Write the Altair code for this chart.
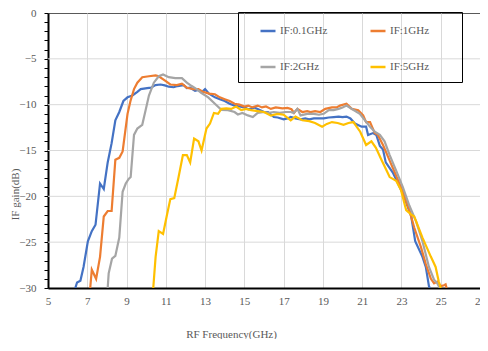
import altair as alt
import pandas as pd

# ---- data ----
names = ["IF:0.1GHz", "IF:1GHz", "IF:2GHz", "IF:5GHz"]
colors = ["#4472C4", "#ED7D31", "#A5A5A5", "#FFC000"]
# legend is laid out column by column, so list column 1 first
legend_order = ["IF:0.1GHz", "IF:2GHz", "IF:1GHz", "IF:5GHz"]

f_01 = [6.39, 6.48, 6.65, 6.81, 7.03, 7.23, 7.42, 7.65, 7.84, 8.04, 8.24, 8.43, 8.63, 8.84, 9.05, 9.3, 9.55, 9.72,
        10.05, 10.25, 10.47, 10.73, 10.95, 11.15, 11.4, 11.6, 11.9, 12.07, 12.24, 12.49, 12.66, 12.85, 13.0, 13.2,
        13.5, 13.75, 14.0, 14.25, 14.5, 14.75, 15.0, 15.2, 15.34, 15.5, 15.7, 16.0, 16.2, 16.5, 16.7, 17.0, 17.2,
        17.36, 17.6, 17.86, 18.1, 18.3, 18.54, 18.8, 19.04, 19.3, 19.55, 19.8, 20.0, 20.2, 20.4, 20.63, 20.97,
        21.2, 21.3, 21.55, 21.72, 21.9, 22.06, 22.2, 22.56, 23.07, 23.3, 23.5, 23.7, 24.07, 24.24, 24.4, 24.45]
g_01 = [-30, -29.4, -29.2, -27.7, -24.9, -23.8, -23.1, -18.6, -19.2, -16.3, -14.2, -11.7, -10.8, -9.6, -9.2, -9.0,
        -8.6, -8.3, -8.2, -8.15, -7.86, -7.8, -7.9, -8.04, -8.1, -7.97, -7.86, -8.2, -8.15, -8.5, -8.4, -8.6, -8.3,
        -8.8, -9.2, -9.4, -9.6, -9.9, -10.1, -10.2, -10.3, -10.5, -10.46, -10.3, -10.5, -10.8, -10.8, -11.35, -11.4,
        -11.6, -11.5, -11.35, -11.5, -11.6, -11.5, -11.6, -11.5, -11.5, -11.5, -11.4, -11.35, -11.3, -11.35, -11.3,
        -11.5, -12.06, -12.4, -12.4, -13.3, -13.1, -13.3, -14.5, -14.9, -16.3, -17.4, -19.7, -21.0, -22.2, -24.9,
        -26.6, -27.7, -29.8, -30]

f_1 = [7.15, 7.23, 7.45, 7.65, 7.84, 8.04, 8.24, 8.43, 8.63, 8.8, 9.05, 9.2, 9.38, 9.55, 9.8, 10.14, 10.48, 10.64,
       10.98, 11.23, 11.56, 11.82, 12.07, 12.4, 12.66, 12.9, 13.2, 13.5, 13.75, 14.0, 14.25, 14.5, 14.75, 15.0,
       15.2, 15.4, 15.68, 15.9, 16.1, 16.35, 16.6, 16.94, 17.2, 17.4, 17.53, 17.7, 17.95, 18.2, 18.37, 18.6, 18.87,
       19.12, 19.46, 19.7, 19.87, 20.2, 20.47, 20.8, 21.05, 21.2, 21.4, 21.64, 21.8, 22.06, 22.4, 22.73, 23.07,
       23.4, 23.65, 24.0, 24.24, 24.5, 24.66, 24.83, 25.0, 25.17, 25.25, 25.3]
g_1 = [-30, -28.0, -29.0, -26.6, -22.2, -21.6, -21.6, -16.0, -15.8, -15.1, -11.0, -9.6, -8.3, -7.6, -7.0, -6.9,
       -6.8, -6.9, -7.4, -7.8, -7.86, -7.72, -8.15, -8.3, -8.3, -8.6, -8.8, -8.86, -9.2, -9.4, -9.6, -9.9, -10.0,
       -10.2, -10.1, -10.3, -10.1, -10.3, -10.2, -10.46, -10.3, -10.4, -10.35, -10.5, -10.9, -10.46, -10.8, -10.7,
       -10.8, -10.7, -10.8, -10.46, -10.3, -10.3, -10.1, -9.9, -10.46, -10.6, -11.17, -11.9, -11.9, -13.1, -13.3,
       -14.4, -16.1, -17.75, -19.5, -21.5, -23.4, -25.6, -27.4, -29.0, -29.5, -29.3, -29.8, -29.7, -29.6, -30]

f_2 = [8.04, 8.09, 8.26, 8.43, 8.63, 8.8, 8.96, 9.11, 9.21, 9.38, 9.55, 9.8, 9.97, 10.14, 10.39, 10.64, 10.86,
       11.15, 11.48, 11.82, 12.07, 12.32, 12.57, 12.8, 13.16, 13.5, 13.83, 14.17, 14.5, 14.67, 14.9, 15.18, 15.43,
       15.68, 16.0, 16.25, 16.5, 16.8, 17.1, 17.36, 17.5, 17.7, 17.86, 18.2, 18.54, 18.8, 19.04, 19.3, 19.55, 19.8,
       20.0, 20.2, 20.5, 20.88, 21.1, 21.4, 21.64, 21.9, 22.14, 22.4, 22.73, 23.07, 23.4, 23.74, 24.07, 24.4,
       24.66, 24.83, 24.95]
g_2 = [-30, -28.4, -26.8, -26.5, -24.5, -19.5, -18.6, -18.1, -17.9, -13.3, -12.6, -12.2, -10.6, -9.0, -7.6, -6.9,
       -6.7, -7.0, -7.1, -7.1, -7.6, -7.97, -8.3, -8.7, -9.2, -9.9, -10.56, -10.6, -10.8, -11.07, -10.9, -11.17,
       -11.35, -10.9, -10.8, -10.9, -10.8, -10.9, -10.8, -10.8, -10.9, -10.46, -11.17, -11.0, -11.0, -11.1, -11.0,
       -10.6, -10.6, -10.46, -10.3, -10.1, -10.5, -11.0, -11.6, -12.4, -12.95, -13.3, -14.0, -15.5, -17.2, -19.0,
       -21.0, -22.7, -24.9, -27.7, -29.1, -29.5, -30]

f_5 = [10.36, 10.48, 10.64, 10.86, 11.06, 11.23, 11.43, 11.65, 11.87, 12.07, 12.24, 12.44, 12.66, 12.82, 13.07,
       13.25, 13.45, 13.66, 13.83, 14.08, 14.33, 14.58, 14.84, 15.09, 15.34, 15.68, 16.0, 16.35, 16.7, 17.0, 17.36,
       17.6, 17.95, 18.3, 18.6, 18.96, 19.2, 19.46, 19.75, 20.05, 20.3, 20.55, 20.9, 21.2, 21.47, 21.7, 21.98,
       22.4, 22.73, 22.98, 23.24, 23.5, 23.65, 24.07, 24.5, 24.74, 24.9, 25.0]
g_5 = [-30, -26.6, -23.8, -24.1, -22.0, -20.3, -20.2, -17.9, -15.5, -15.5, -16.3, -13.7, -14.0, -15.0, -12.6,
       -12.06, -10.9, -11.0, -10.46, -10.4, -10.46, -10.2, -10.6, -10.46, -10.6, -10.7, -10.8, -11.2, -11.0, -11.1,
       -11.7, -11.3, -11.7, -11.8, -12.0, -12.4, -12.1, -11.9, -12.0, -12.2, -12.0, -11.9, -12.95, -14.4, -14.0,
       -14.7, -16.0, -17.9, -18.3, -19.35, -21.5, -22.0, -22.2, -24.5, -26.6, -27.7, -29.3, -30]

x_ticks = [5, 7, 9, 11, 13, 15, 17, 19, 21, 23, 25, 27]
y_ticks = list(range(-30, 1))
y_grid = [-25, -20, -15, -10, -5]

rows = []
for name, fs, gs in zip(names, [f_01, f_1, f_2, f_5], [g_01, g_1, g_2, g_5]):
    for i, (f, g) in enumerate(zip(fs, gs)):
        rows.append({"series": name, "freq": f, "gain": g, "order": i})
df = pd.DataFrame(rows)
grid_df = pd.DataFrame({"gv": y_grid})

FONT = "Liberation Serif"
TXT = "#595959"
color_of = dict(zip(names, colors))

xscale = alt.Scale(domain=[5, 27], nice=False, zero=False)
yscale = alt.Scale(domain=[-30, 0], nice=False, zero=False)

y_axis = alt.Axis(values=y_ticks, title="IF gain(dB)", grid=False,
                  labelExpr="datum.value % 5 == 0 ? datum.label : ''",
                  tickSize=4, tickColor="black", tickWidth=1, labelPadding=8,
                  domainColor="black", domainWidth=2, labelFont=FONT, labelFontSize=11,
                  labelColor=TXT, titleFont=FONT, titleFontSize=11, titleColor=TXT,
                  titleFontWeight="normal", titleX=-33, titleY=181, titleAngle=270,
                  titleBaseline="middle", titleAlign="center")

hgrid = alt.Chart(grid_df).mark_rule(color="#d9d9d9", strokeWidth=1).encode(
    y=alt.Y("gv:Q", scale=yscale, axis=y_axis)
)

lines = alt.Chart(df).mark_line(strokeWidth=2.2, clip=True).encode(
    x=alt.X("freq:Q", scale=xscale,
            axis=alt.Axis(values=x_ticks, title="RF Frequency(GHz)", grid=True, gridColor="#d9d9d9",
                          ticks=False, labelFlush=False, labelPadding=7, domainColor="black",
                          domainWidth=2, labelFont=FONT, labelFontSize=11, labelColor=TXT,
                          titleFont=FONT, titleFontSize=11, titleColor=TXT, titleFontWeight="normal",
                          titleX=183, titleY=46, titleBaseline="middle", titleAlign="center")),
    y=alt.Y("gain:Q", scale=yscale, axis=y_axis),
    color=alt.Color("series:N",
                    scale=alt.Scale(domain=legend_order, range=[color_of[n] for n in legend_order]),
                    legend=alt.Legend(title="\u00a0", titleOrient="right", titlePadding=23,
                                      orient="none", legendX=190, legendY=-1, columns=2,
                                      symbolType="stroke", symbolSize=225, symbolStrokeWidth=2.5,
                                      symbolOffset=11, labelOffset=3, padding=10,
                                      rowPadding=22, columnPadding=30, strokeColor="black",
                                      labelFont=FONT, labelFontSize=11, labelColor=TXT)),
    order="order:Q",
)

chart = alt.layer(hgrid, lines).properties(
    width=432, height=275,
    autosize=alt.AutoSizeParams(type="none"),
    padding={"left": 40, "top": 5, "right": 0, "bottom": 51},
).configure_view(stroke="#595959", strokeWidth=1)

chart.save("out.html", embed_options={"renderer": "svg", "actions": False})
